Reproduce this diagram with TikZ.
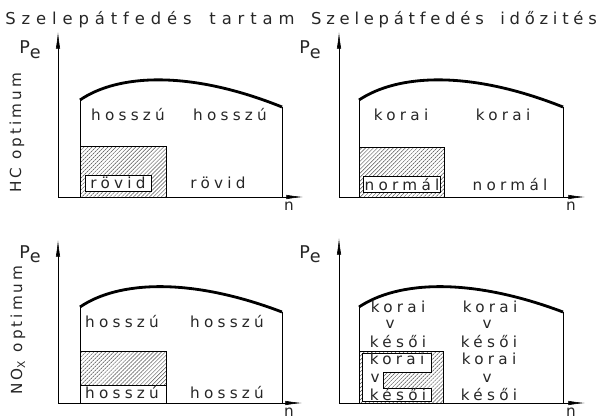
\documentclass[tikz,border=0pt]{standalone}
\usepackage{fontspec}
\usetikzlibrary{arrows.meta,patterns.meta}
\newfontfamily\cadfont{DejaVu Sans}[LetterSpace=28]
\newfontfamily\cadsidefont{DejaVu Sans}[LetterSpace=20]
\newfontfamily\cadtitlefont{DejaVu Sans}[LetterSpace=36]
\newfontfamily\cadtitlefontb{DejaVu Sans}[LetterSpace=29]

\begin{document}
\begin{tikzpicture}[x=0.3mm, y=-0.3mm,
  axis/.style={-{Latex[length=5mm,width=1.3mm]}, line width=0.5pt},
  wall/.style={line width=0.6pt},
  curve/.style={line width=2.4pt},
  hatch/.style={draw, line width=0.4pt, pattern color=black!70,
                pattern={Lines[angle=45,distance=2.4pt,line width=0.4pt]}},
  hole/.style={draw, fill=white, line width=0.5pt},
  word/.style={font=\fontsize{13}{15}\selectfont\cadfont, text=black!85,
               inner sep=0pt, anchor=base},
  ttl/.style={text=black!85, inner sep=0pt, anchor=base},
  side/.style={font=\fontsize{13}{15}\selectfont\cadsidefont, text=black!85,
               inner sep=0pt, rotate=90, anchor=center},
  pelbl/.style={font=\fontsize{15}{17}\selectfont\cadsidefont, text=black!85,
                inner sep=0pt, anchor=base},
]
\useasboundingbox (0,0) rectangle (603,418);

% titles
\node[ttl, font=\fontsize{14}{16}\selectfont\cadtitlefont] (ttlrange)
  at (150,25) {Szelepátfedés\hspace{0.4em} tartam};
\node[ttl, font=\fontsize{14}{16}\selectfont\cadtitlefontb] (ttltime)
  at (454,25) {Szelepátfedés\hspace{0.4em} időzités};

% side labels
\node[side] (hcopt) at (17,133) {HC optimum};
\node[side] (noxopt) at (18,330) {NO\textsubscript{X} optimum};

% top left
\draw[hatch] (80,146) rectangle (166,197);
\draw[hole] (85,175) rectangle (151,191);
\draw[wall] (80,197) -- (80,100);
\draw[curve] (80,100) .. controls (118,74) and (190,70) .. (282,107);
\draw[wall] (282,107) -- (282,197);
\draw[axis] (58,197) -- (58,32);
\draw[axis] (58,197) -- (303,197);
\node[pelbl] (pea) at (30,54) {P\raisebox{-0.45ex}{e}};
\node[word] (na) at (289,210) {n};
\node[word] (hca) at (128,121) {hosszú};
\node[word] (hcb) at (230,121) {hosszú};
\node[word] (hcc) at (118,188) {rövid};
\node[word] (hcd) at (218,188) {rövid};

% top right
\draw[hatch] (359,147) rectangle (444,197);
\draw[hole] (363,176) rectangle (440,192);
\draw[wall] (359,197) -- (359,100);
\draw[curve] (359,100) .. controls (398,74) and (470,70) .. (563,107);
\draw[wall] (563,107) -- (563,197);
\draw[axis] (339,197) -- (339,32);
\draw[axis] (339,197) -- (585,197);
\node[pelbl] (peb) at (310,54) {P\raisebox{-0.45ex}{e}};
\node[word] (nb) at (571,210) {n};
\node[word] (tma) at (401,121) {korai};
\node[word] (tmb) at (503,121) {korai};
\node[word] (tmc) at (402,190) {normál};
\node[word] (tmd) at (510,190) {normál};

% bottom left
\draw[hatch] (80,351) rectangle (166,385);
\draw[wall] (166,385) -- (166,403);
\draw[wall] (80,403) -- (80,307);
\draw[curve] (80,307) .. controls (118,281) and (190,277) .. (282,312);
\draw[wall] (282,312) -- (282,403);
\draw[axis] (58,403) -- (58,240);
\draw[axis] (58,403) -- (302,403);
\node[pelbl] (pec) at (30,258) {P\raisebox{-0.45ex}{e}};
\node[word] (nc) at (289,416) {n};
\node[word] (nxa) at (122,327) {hosszú};
\node[word] (nxb) at (227,327) {hosszú};
\node[word] (nxc) at (122,398) {hosszú};
\node[word] (nxd) at (227,398) {hosszú};

% bottom right
\draw[hatch] (359,351) rectangle (443,403);
\draw[hole] (362,353) -- (431,353) -- (431,372) -- (383,372) -- (383,388)
  -- (431,388) -- (431,401) -- (362,401) -- cycle;
\draw[wall] (359,403) -- (359,307);
\draw[curve] (359,307) .. controls (398,281) and (470,277) .. (563,312);
\draw[wall] (563,312) -- (563,403);
\draw[axis] (339,403) -- (339,238);
\draw[axis] (339,403) -- (585,403);
\node[pelbl] (ped) at (310,258) {P\raisebox{-0.45ex}{e}};
\node[word] (nd) at (571,416) {n};
\node[word] (ka) at (398,312) {korai};
\node[word] (kb) at (390,328) {v};
\node[word] (kc) at (398,347) {késői};
\node[word] (kd) at (397,364) {korai};
\node[word] (ke) at (375,382) {v};
\node[word] (kf) at (398,400) {késői};
\node[word] (la) at (490,312) {korai};
\node[word] (lb) at (487,328) {v};
\node[word] (lc) at (489,347) {késői};
\node[word] (ld) at (489,364) {korai};
\node[word] (le) at (487,382) {v};
\node[word] (lf) at (489,400) {késői};
\end{tikzpicture}
\end{document}
